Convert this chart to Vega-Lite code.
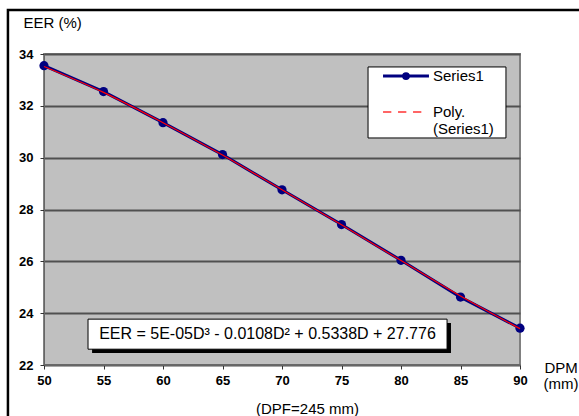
{
  "$schema": "https://vega.github.io/schema/vega-lite/v6.json",
  "width": 476,
  "height": 311,
  "autosize": "none",
  "padding": {"left": 44, "top": 54, "right": 59, "bottom": 51},
  "background": "white",
  "config": {
    "font": "Liberation Sans",
    "view": {"fill": "#c0c0c0", "stroke": "#808080", "strokeWidth": 2},
    "axis": {
      "labelFont": "Liberation Sans",
      "titleFont": "Liberation Sans",
      "labelFontSize": 13,
      "labelFontWeight": "bold",
      "labelColor": "black",
      "titleColor": "black",
      "titleFontSize": 15,
      "titleFontWeight": "normal",
      "tickSize": 4,
      "tickColor": "#333333",
      "domainColor": "#666666",
      "labelFlush": false,
      "labelOverlap": false
    }
  },
  "datasets": {
    "curve": [
      {"D": 50, "EER": 33.55, "series": "Series1"},
      {"D": 55, "EER": 32.55, "series": "Series1"},
      {"D": 60, "EER": 31.35, "series": "Series1"},
      {"D": 65, "EER": 30.12, "series": "Series1"},
      {"D": 70, "EER": 28.76, "series": "Series1"},
      {"D": 75, "EER": 27.42, "series": "Series1"},
      {"D": 80, "EER": 26.04, "series": "Series1"},
      {"D": 85, "EER": 24.62, "series": "Series1"},
      {"D": 90, "EER": 23.42, "series": "Series1"},
      {"D": 50, "EER": 33.52, "series": "Poly. (Series1)"},
      {"D": 55, "EER": 32.52, "series": "Poly. (Series1)"},
      {"D": 60, "EER": 31.35, "series": "Poly. (Series1)"},
      {"D": 65, "EER": 30.10, "series": "Poly. (Series1)"},
      {"D": 70, "EER": 28.76, "series": "Poly. (Series1)"},
      {"D": 75, "EER": 27.41, "series": "Poly. (Series1)"},
      {"D": 80, "EER": 26.03, "series": "Poly. (Series1)"},
      {"D": 85, "EER": 24.66, "series": "Poly. (Series1)"},
      {"D": 90, "EER": 23.40, "series": "Poly. (Series1)"}
    ]
  },
  "layer": [
    {
      "data": {"name": "curve"},
      "transform": [{"filter": "datum.series === 'Series1'"}],
      "mark": {"type": "line", "strokeWidth": 3, "point": {"filled": true, "size": 85, "opacity": 1}},
      "encoding": {
        "x": {
          "field": "D", "type": "quantitative", "title": "(DPF=245 mm)",
          "scale": {"domain": [50, 90], "nice": false, "zero": false},
          "axis": {
            "values": [50, 55, 60, 65, 70, 75, 80, 85, 90],
            "grid": false,
            "titleX": 263, "titleY": 43,
            "titleAlign": "center", "titleBaseline": "middle",
            "labelPadding": 5
          }
        },
        "y": {
          "field": "EER", "type": "quantitative", "title": "EER (%)",
          "scale": {"domain": [22, 34], "nice": false, "zero": false},
          "axis": {
            "values": [22, 24, 26, 28, 30, 32, 34],
            "grid": true, "gridColor": "#505050", "gridWidth": 2,
            "titleAngle": 0, "titleX": -21, "titleY": -32,
            "titleAlign": "left", "titleBaseline": "middle",
            "labelPadding": 7
          }
        },
        "color": {
          "field": "series", "type": "nominal",
          "scale": {"domain": ["Series1", "Poly. (Series1)"], "range": ["#000080", "#ff0000"]},
          "legend": null
        }
      }
    },
    {
      "data": {"values": [{}]},
      "mark": {"type": "rect", "fill": null, "stroke": "black", "strokeWidth": 2.5},
      "encoding": {
        "x": {"datum": 46.97, "type": "quantitative", "title": "(DPF=245 mm)", "scale": {"domain": [50, 90], "nice": false, "zero": false}},
        "x2": {"datum": 130},
        "y": {"datum": 35.7, "type": "quantitative", "title": "EER (%)", "scale": {"domain": [22, 34], "nice": false, "zero": false}},
        "y2": {"datum": 0}
      }
    },
    {
      "data": {"name": "curve"},
      "transform": [{"filter": "datum.series === 'Poly. (Series1)'"}],
      "mark": {"type": "line", "strokeWidth": 1.2, "interpolate": "monotone"},
      "encoding": {
        "x": {"field": "D", "type": "quantitative", "title": "(DPF=245 mm)", "scale": {"domain": [50, 90], "nice": false, "zero": false}},
        "y": {"field": "EER", "type": "quantitative", "title": "EER (%)", "scale": {"domain": [22, 34], "nice": false, "zero": false}},
        "color": {"field": "series", "type": "nominal"}
      }
    },
    {
      "data": {"values": [{}]},
      "mark": {"type": "rect", "fill": "white", "stroke": "black", "strokeWidth": 1},
      "encoding": {
        "x": {"datum": 77.23, "type": "quantitative", "title": "(DPF=245 mm)", "scale": {"domain": [50, 90], "nice": false, "zero": false}},
        "x2": {"datum": 88.82},
        "y": {"datum": 33.5, "type": "quantitative", "title": "EER (%)", "scale": {"domain": [22, 34], "nice": false, "zero": false}},
        "y2": {"datum": 30.76}
      }
    },
    {
      "data": {"values": [{}]},
      "mark": {"type": "rule", "color": "#000080", "strokeWidth": 3},
      "encoding": {
        "x": {"datum": 78.49, "type": "quantitative", "title": "(DPF=245 mm)", "scale": {"domain": [50, 90], "nice": false, "zero": false}},
        "x2": {"datum": 82.35},
        "y": {"datum": 33.15, "type": "quantitative", "title": "EER (%)", "scale": {"domain": [22, 34], "nice": false, "zero": false}}
      }
    },
    {
      "data": {"values": [{}]},
      "mark": {"type": "point", "filled": true, "color": "#000080", "size": 60, "opacity": 1},
      "encoding": {
        "x": {"datum": 80.42, "type": "quantitative", "title": "(DPF=245 mm)", "scale": {"domain": [50, 90], "nice": false, "zero": false}},
        "y": {"datum": 33.15, "type": "quantitative", "title": "EER (%)", "scale": {"domain": [22, 34], "nice": false, "zero": false}}
      }
    },
    {
      "data": {"values": [{}]},
      "mark": {"type": "rule", "color": "#ff3333", "strokeWidth": 1.5, "strokeDash": [8.3, 6.7]},
      "encoding": {
        "x": {"datum": 78.49, "type": "quantitative", "title": "(DPF=245 mm)", "scale": {"domain": [50, 90], "nice": false, "zero": false}},
        "x2": {"datum": 81.76},
        "y": {"datum": 31.76, "type": "quantitative", "title": "EER (%)", "scale": {"domain": [22, 34], "nice": false, "zero": false}}
      }
    },
    {
      "data": {"values": [{"name": ["Series1"], "row": 33.15}, {"name": ["Poly.", "(Series1)"], "row": 31.76}]},
      "mark": {"type": "text", "fontSize": 15, "color": "black", "align": "left", "baseline": "middle", "lineHeight": 16.5},
      "encoding": {
        "x": {"datum": 82.69, "type": "quantitative", "title": "(DPF=245 mm)", "scale": {"domain": [50, 90], "nice": false, "zero": false}},
        "y": {"field": "row", "type": "quantitative", "title": "EER (%)", "scale": {"domain": [22, 34], "nice": false, "zero": false}},
        "text": {"field": "name"}
      }
    },
    {
      "data": {"values": [{}]},
      "mark": {"type": "rect", "fill": "black"},
      "encoding": {
        "x": {"datum": 54.04, "type": "quantitative", "title": "(DPF=245 mm)", "scale": {"domain": [50, 90], "nice": false, "zero": false}},
        "x2": {"datum": 84.2},
        "y": {"datum": 23.62, "type": "quantitative", "title": "EER (%)", "scale": {"domain": [22, 34], "nice": false, "zero": false}},
        "y2": {"datum": 22.46}
      }
    },
    {
      "data": {"values": [{}]},
      "mark": {"type": "rect", "fill": "white", "stroke": "black", "strokeWidth": 1},
      "encoding": {
        "x": {"datum": 53.7, "type": "quantitative", "title": "(DPF=245 mm)", "scale": {"domain": [50, 90], "nice": false, "zero": false}},
        "x2": {"datum": 83.87},
        "y": {"datum": 23.77, "type": "quantitative", "title": "EER (%)", "scale": {"domain": [22, 34], "nice": false, "zero": false}},
        "y2": {"datum": 22.61}
      }
    },
    {
      "data": {"values": [{"eq": "EER = 5E-05D³ - 0.0108D² + 0.5338D + 27.776"}]},
      "mark": {"type": "text", "fontSize": 16, "color": "black", "align": "center", "baseline": "middle"},
      "encoding": {
        "x": {"datum": 68.78, "type": "quantitative", "title": "(DPF=245 mm)", "scale": {"domain": [50, 90], "nice": false, "zero": false}},
        "y": {"datum": 23.19, "type": "quantitative", "title": "EER (%)", "scale": {"domain": [22, 34], "nice": false, "zero": false}},
        "text": {"field": "eq"}
      }
    },
    {
      "data": {"values": [{"unit": ["DPM", "(mm)"]}]},
      "mark": {"type": "text", "fontSize": 15, "color": "black", "align": "center", "baseline": "middle", "lineHeight": 16},
      "encoding": {
        "x": {"datum": 93.45, "type": "quantitative", "title": "(DPF=245 mm)", "scale": {"domain": [50, 90], "nice": false, "zero": false}},
        "y": {"datum": 21.88, "type": "quantitative", "title": "EER (%)", "scale": {"domain": [22, 34], "nice": false, "zero": false}},
        "text": {"field": "unit"}
      }
    }
  ]
}
